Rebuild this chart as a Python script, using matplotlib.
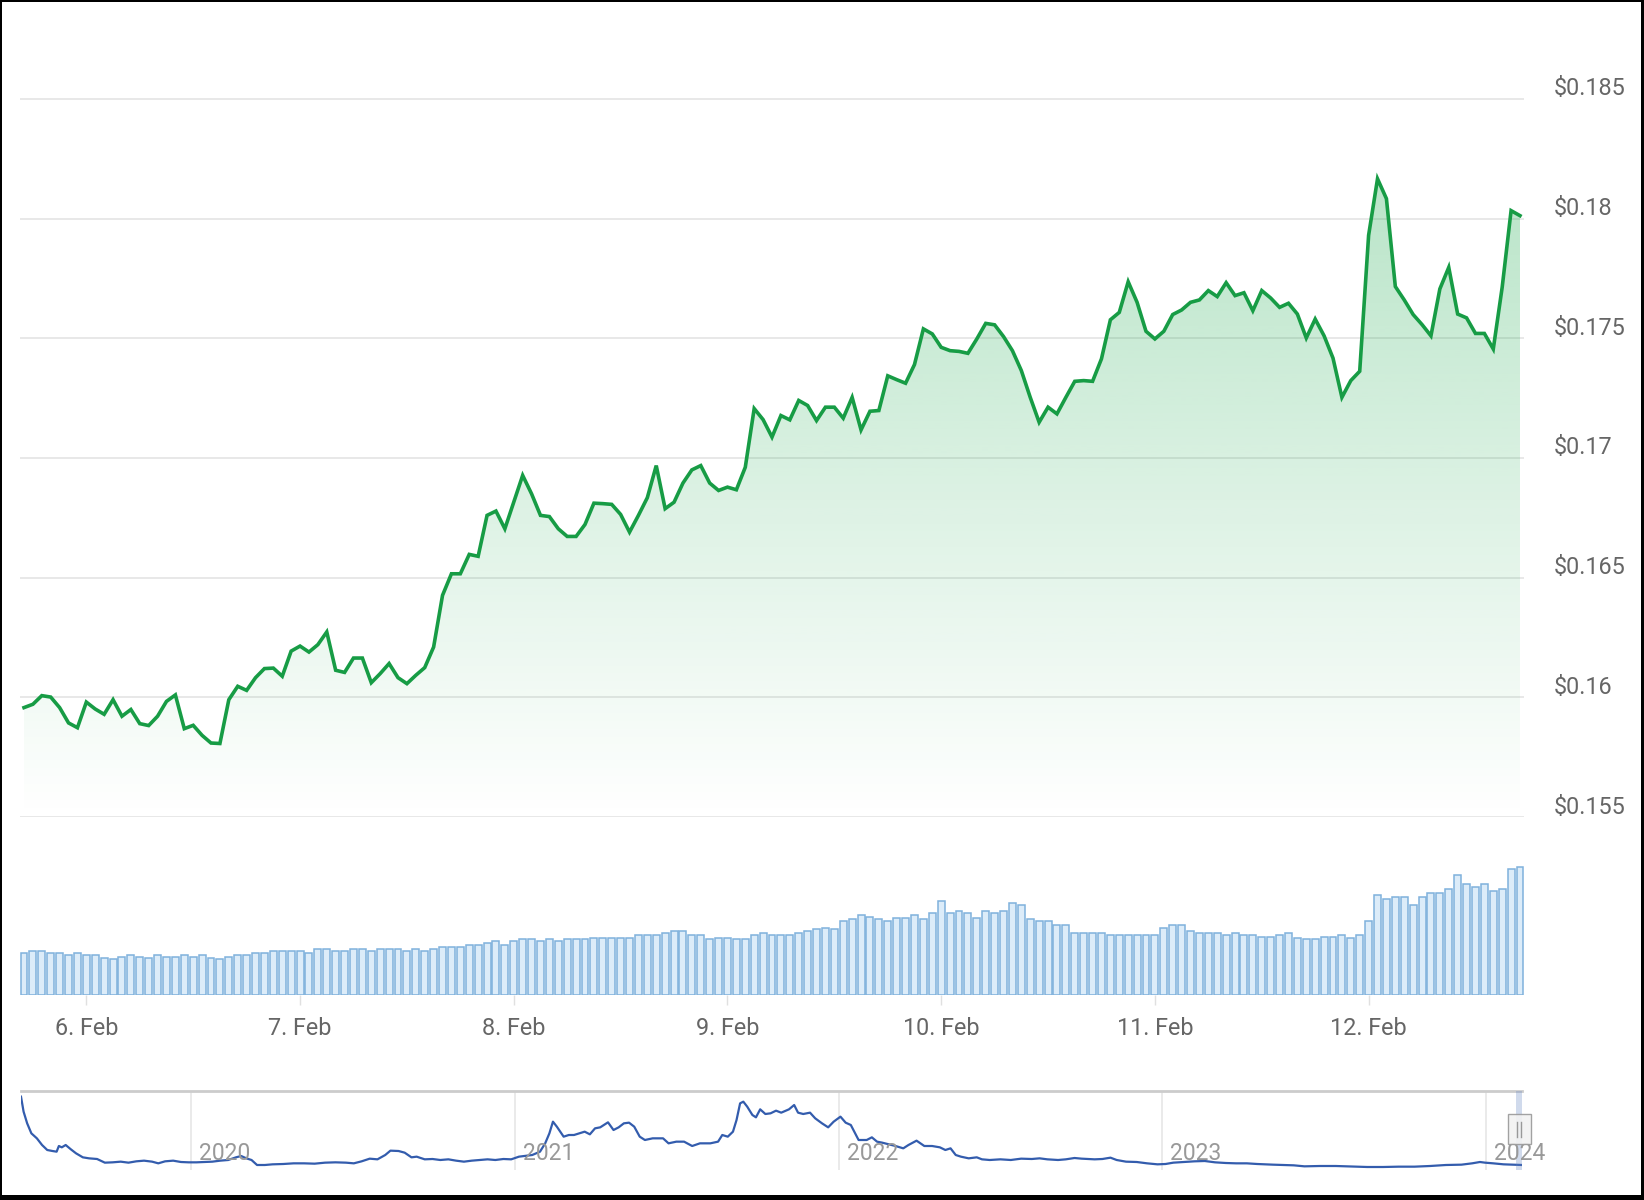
import numpy as np
import matplotlib
matplotlib.use("Agg")
import matplotlib.pyplot as plt
import matplotlib.dates as mdates
from matplotlib.patches import Rectangle, Polygon
from matplotlib.transforms import ScaledTranslation, blended_transform_factory
from matplotlib.ticker import FuncFormatter
from datetime import datetime, timedelta

plt.rcParams['font.family'] = ['Roboto', 'DejaVu Sans']

# ---------------- data ----------------
start_time = datetime(2024, 2, 5, 17, 0)   # hourly series

price = [
    0.15957, 0.15971, 0.16007, 0.16001, 0.15957, 0.15893, 0.15873, 0.1598, 0.15951, 0.15929,
    0.1599, 0.15921, 0.15949, 0.1589, 0.15882, 0.15921, 0.15983, 0.1601, 0.15869, 0.15883,
    0.15841, 0.15809, 0.15807, 0.1599, 0.16046, 0.16029, 0.16082, 0.1612, 0.16122, 0.16088,
    0.16193, 0.16214, 0.16189, 0.1622, 0.16273, 0.16113, 0.16104, 0.16164, 0.16164, 0.16061,
    0.16099, 0.16141, 0.16082, 0.16057, 0.16092, 0.16124, 0.1621,
    0.16426, 0.16516, 0.16516, 0.16597, 0.16589, 0.1676, 0.16778, 0.16704, 0.16815, 0.16927,
    0.1685, 0.1676, 0.16755, 0.16704, 0.16672, 0.16672, 0.16722, 0.16811, 0.16809, 0.16806,
    0.16764, 0.1669, 0.1676, 0.16834, 0.16968, 0.16788, 0.16815, 0.16895, 0.1695, 0.16968,
    0.16895, 0.16864, 0.16878, 0.16867, 0.16961,
    0.17206, 0.1716,
    0.17087, 0.17177, 0.17159, 0.1724, 0.17219, 0.17156, 0.17212, 0.17212, 0.17166, 0.17253,
    0.17117, 0.17195, 0.17198, 0.17343, 0.17327, 0.17312, 0.1739, 0.17539, 0.17518, 0.17462,
    0.17448, 0.17445, 0.17437, 0.17497, 0.17562, 0.17556, 0.17507, 0.17448, 0.17365, 0.17253,
    0.17149, 0.17212, 0.17184, 0.17253, 0.1732, 0.17323, 0.1732, 0.17414, 0.17577, 0.17608,
    0.17736, 0.1765,
    0.17529, 0.17497, 0.17529, 0.17599, 0.17618, 0.1765, 0.1766, 0.17699, 0.17674, 0.17732,
    0.17678, 0.1769, 0.17615, 0.17699, 0.17668, 0.17629, 0.17646, 0.17601, 0.17501, 0.1758,
    0.1751, 0.17417, 0.17253, 0.17323, 0.17362, 0.1793, 0.18166, 0.18083, 0.17716, 0.1766,
    0.17599, 0.17557, 0.1751, 0.17706, 0.17796, 0.17601, 0.17585, 0.1752, 0.1752, 0.17455,
    0.17713, 0.18033, 0.18012,
]

volume = [
    125, 132, 132, 125, 125, 119, 125, 119, 119, 112,
    109, 115, 119, 115, 112, 119, 115, 115, 119, 115,
    119, 112, 109, 115, 119, 119, 125, 125, 132, 132,
    132, 132, 125, 137, 137, 132, 132, 137, 137, 132,
    137, 137, 137, 132, 137, 132, 139, 143, 143, 143,
    149, 149, 155, 161, 149, 162, 167, 167, 162, 167,
    162, 167, 167, 167, 172,
    172, 172, 172, 172, 179, 179, 179, 185, 192, 192,
    179, 179, 167, 172, 172, 167, 167, 179, 185, 179,
    179, 179, 185, 192, 197, 202, 197, 222, 227, 239,
    234, 227, 222, 232, 232, 239, 227, 245, 282, 247,
    252, 247, 232, 252, 247, 252, 277, 269, 227, 222,
    222, 209, 209, 185, 185, 185, 185, 179, 179, 179,
    179, 179, 179, 202, 209, 209, 192,
    185, 185, 185, 179, 185, 179, 179, 175, 175, 179,
    185, 172, 167, 167, 175, 175, 179, 172, 179, 222,
    300, 287, 294, 294, 269, 294, 307, 307, 319, 360,
    332, 325, 332, 312, 319, 379, 385,
]

nav_year = [
    2019.475, 2019.483, 2019.494, 2019.507, 2019.524, 2019.540, 2019.556, 2019.572, 2019.585, 2019.592,
    2019.601, 2019.613, 2019.629, 2019.645, 2019.666, 2019.685, 2019.710, 2019.734, 2019.758, 2019.783,
    2019.807, 2019.831, 2019.855, 2019.880, 2019.899, 2019.920, 2019.945, 2019.969, 2019.993, 2020.017,
    2020.042, 2020.066, 2020.090, 2020.115, 2020.139, 2020.155, 2020.171, 2020.187, 2020.204, 2020.228,
    2020.252, 2020.285, 2020.317, 2020.349, 2020.382, 2020.414, 2020.446, 2020.479, 2020.503, 2020.527,
    2020.552, 2020.576, 2020.600, 2020.616, 2020.641, 2020.660, 2020.681, 2020.697, 2020.722, 2020.746,
    2020.770, 2020.795, 2020.819, 2020.843, 2020.867, 2020.892, 2020.916, 2020.940, 2020.965, 2020.989,
    2021.013, 2021.029, 2021.054, 2021.078, 2021.094, 2021.107, 2021.118, 2021.130, 2021.151, 2021.167,
    2021.183, 2021.199, 2021.216, 2021.232, 2021.248, 2021.264, 2021.288, 2021.305, 2021.321, 2021.337,
    2021.353, 2021.369, 2021.386, 2021.402, 2021.426, 2021.458, 2021.475, 2021.499, 2021.523, 2021.548,
    2021.572, 2021.604, 2021.628, 2021.641, 2021.658, 2021.674, 2021.685, 2021.696, 2021.706, 2021.718,
    2021.734, 2021.745, 2021.758, 2021.774, 2021.790, 2021.807, 2021.823, 2021.847, 2021.863, 2021.875,
    2021.891, 2021.912, 2021.928, 2021.949,
    2021.968, 2021.985, 2022.006, 2022.022, 2022.038, 2022.062, 2022.087, 2022.103, 2022.119,
    2022.135, 2022.151, 2022.176, 2022.200, 2022.216, 2022.241, 2022.265, 2022.289, 2022.313, 2022.330,
    2022.346, 2022.362, 2022.378, 2022.402, 2022.427, 2022.443, 2022.467, 2022.500, 2022.532, 2022.564,
    2022.597, 2022.621, 2022.645, 2022.678, 2022.702, 2022.729, 2022.751, 2022.791, 2022.815, 2022.840,
    2022.859, 2022.888, 2022.921, 2022.953, 2022.985, 2023.010, 2023.034, 2023.066, 2023.099, 2023.131,
    2023.163, 2023.196, 2023.228, 2023.261, 2023.293, 2023.342, 2023.406, 2023.439, 2023.487, 2023.536,
    2023.568, 2023.633, 2023.682, 2023.730, 2023.779, 2023.827, 2023.876, 2023.924, 2023.957, 2023.981,
    2023.997, 2024.022, 2024.054, 2024.086, 2024.111,
]

nav_level = [
    220, 175, 140, 110, 95, 75, 60, 57, 55, 72,
    68, 75, 62, 50, 38, 35, 33, 22, 23, 25,
    22, 26, 28, 25, 20, 26, 28, 24, 23, 23,
    24, 25, 28, 30, 38, 42, 35, 30, 15, 15,
    17, 18, 20, 20, 19, 22, 23, 22, 20, 26,
    34, 32, 45, 58, 57, 52, 38, 40, 32, 33,
    30, 32, 28, 25, 28, 30, 32, 30, 33, 32,
    40, 42, 45, 55, 80, 110, 145, 130, 100, 105,
    105, 110, 115, 107, 125, 128, 143, 120, 128, 140,
    142, 130, 100, 90, 95, 95, 80, 85, 85, 72,
    80, 80, 85, 105, 100, 115, 150, 200, 205, 190,
    165, 158, 182, 168, 170, 178, 172, 182, 195, 172,
    168, 172, 155, 140,
    128, 145, 160, 142, 135, 90, 90, 98, 85,
    82, 78, 72, 65, 75, 88, 72, 72, 68, 60,
    65, 45, 40, 35, 38, 32, 30, 32, 30, 34,
    33, 35, 32, 30, 32, 36, 34, 32, 33, 37,
    30, 25, 24, 20, 17, 18, 22, 24, 26, 27,
    23, 21, 20, 20, 18, 16, 14, 11, 12, 12,
    11, 9, 9, 10, 10, 12, 15, 16, 20, 24,
    22, 20, 17, 16, 15,
]

price_ticks = [0.155, 0.16, 0.165, 0.17, 0.175, 0.18, 0.185]
year_ticks = [2020, 2021, 2022, 2023, 2024]

# ---------------- layout ----------------
W, H = 1644, 1200
DPI = 100
fig = plt.figure(figsize=(W / DPI, H / DPI), dpi=DPI)
fig.patch.set_facecolor('white')


def rect(x0, y0, x1, y1):
    return [x0 / W, 1 - y1 / H, (x1 - x0) / W, (y1 - y0) / H]


ax = fig.add_axes(rect(20, 39, 1524, 817))
axv = fig.add_axes(rect(20, 830, 1524, 995), sharex=ax)
axn = fig.add_axes(rect(21, 1091, 1522, 1170))

times = [start_time + timedelta(hours=i) for i in range(len(price))]
xn = mdates.date2num(times)

LINE_GREEN = '#179c45'
TXT = '#666666'

# ---------------- price pane ----------------
ymin, ymax = 0.155, 0.1875
verts = [(xn[0], ymin)] + list(zip(xn, price)) + [(xn[-1], ymin)]
poly = Polygon(verts, closed=True, facecolor='none', edgecolor='none')
ax.add_patch(poly)
n = 256
vals = np.linspace(ymin, ymax, n)
alpha = 0.32 * (vals - ymin) / (0.182 - ymin)
grad = np.zeros((n, 1, 4))
grad[..., 0] = 34 / 255
grad[..., 1] = 172 / 255
grad[..., 2] = 82 / 255
grad[..., 3] = alpha[:, None]
im = ax.imshow(grad, extent=[xn[0], xn[-1], ymin, ymax], origin='lower',
               aspect='auto', zorder=1, interpolation='bilinear')
im.set_clip_path(poly)

ax.plot(times, price, color=LINE_GREEN, lw=2.6, zorder=3, solid_joinstyle='miter')

half = timedelta(minutes=27)
ax.set_xlim(times[0] - half, times[-1] + half)
ax.set_ylim(ymin, ymax)
ax.set_yticks(price_ticks)
ax.yaxis.tick_right()
ax.yaxis.set_major_formatter(FuncFormatter(lambda v, p: f"${v:g}"))
ax.tick_params(axis='y', length=0, pad=21.6, labelsize=16.8, labelcolor=TXT)
ax.tick_params(axis='x', length=0, labelbottom=False)
ax.grid(axis='y', color='#e6e6e6', lw=1.3, zorder=0)
ax.set_axisbelow(True)
for s in ax.spines.values():
    s.set_visible(False)
ax.set_facecolor('none')
off = ScaledTranslation(0, 12.5 / DPI, fig.dpi_scale_trans)
for lbl in ax.yaxis.get_majorticklabels():
    lbl.set_transform(lbl.get_transform() + off)

# ---------------- volume pane ----------------
axv.bar(times, volume, width=0.78 / 24, color='#dcecf9', edgecolor='#7fb1dc',
        linewidth=1.1, zorder=2)
axv.set_ylim(0, 495)
axv.set_yticks([])
for s in axv.spines.values():
    s.set_visible(False)
axv.set_facecolor('none')
axv.xaxis.set_major_locator(mdates.DayLocator())
axv.xaxis.set_major_formatter(FuncFormatter(
    lambda v, p: f"{mdates.num2date(v).day}. {mdates.num2date(v):%b}"))
axv.tick_params(axis='x', length=7, width=1, color='#e0e0e0', pad=8.5,
                labelsize=16.8, labelcolor=TXT)

# ---------------- navigator ----------------
axn.plot(nav_year, nav_level, color='#335cad', lw=1.6, zorder=3)
axn.set_xlim(2019.475, 2024.111)
axn.set_ylim(0, 237)
axn.set_yticks([])
axn.set_xticks(year_ticks)
axn.tick_params(axis='x', length=0, labelbottom=False)
axn.grid(axis='x', color='#e6e6e6', lw=1.2, zorder=0)
for k, s in axn.spines.items():
    s.set_visible(k == 'top')
axn.spines['top'].set_color('#cccccc')
axn.spines['top'].set_linewidth(2.0)
axn.set_facecolor('none')
tr = blended_transform_factory(axn.transData, axn.transAxes)
lab_off = ScaledTranslation(8 / DPI, 0, fig.dpi_scale_trans)
for yr in year_ticks:
    axn.text(yr, 0.215, str(yr), transform=tr + lab_off, ha='left', va='center',
             fontsize=16.5, color='#999999', zorder=5)

# selected range (last week) and handle
sel_start = nav_year[-1] - 7 / 365.25
axn.axvspan(sel_start, nav_year[-1], color='#6685c2', alpha=0.3, lw=0, zorder=4)
hc = nav_year[-1] - 0.008
hw = 0.0355
axn.add_patch(Rectangle((hc - hw, 0.33), 2 * hw, 0.38, transform=tr,
                        facecolor='#f2f2f2', edgecolor='#999999', lw=1.0, alpha=0.9,
                        zorder=6, clip_on=False))
for dx in (-0.006, 0.004):
    axn.plot([hc + dx] * 2, [0.42, 0.61], transform=tr, color='#999999',
             lw=1.0, zorder=7, clip_on=False)

# ---------------- outer black frame ----------------
for (x0, y0, w, h) in [(0, 0, 2, H), (0, 0, W, 2), (W - 3, 0, 3, H), (0, H - 5, W, 5)]:
    fig.patches.append(Rectangle((x0 / W, 1 - (y0 + h) / H), w / W, h / H,
                                 transform=fig.transFigure, facecolor='black',
                                 edgecolor='none', zorder=10))

fig.savefig('out.png', dpi=DPI)
